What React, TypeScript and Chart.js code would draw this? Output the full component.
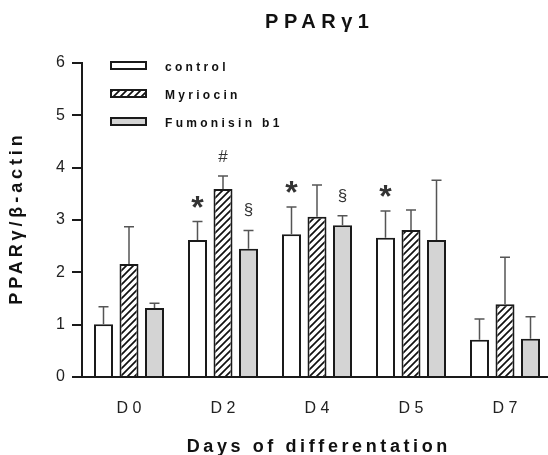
import React, { useEffect, useRef } from "react";
import { Chart, registerables } from "chart.js";

Chart.register(...registerables);

const categories = ["D0", "D2", "D4", "D5", "D7"];
const seriesNames = ["control", "Myriocin", "Fumonisin b1"];
const controlValues = [1.01, 2.62, 2.73, 2.66, 0.71];
const controlErrors = [0.33, 0.35, 0.52, 0.51, 0.40];
const myriocinValues = [2.16, 3.59, 3.06, 2.81, 1.39];
const myriocinErrors = [0.71, 0.25, 0.61, 0.38, 0.9];
const fumonisinValues = [1.32, 2.45, 2.9, 2.62, 0.73];
const fumonisinErrors = [0.09, 0.35, 0.18, 1.14, 0.42];
const controlMarks = ["", "*", "*", "*", ""];
const myriocinMarks = ["", "#", "", "", ""];
const fumonisinMarks = ["", "§", "§", "", ""];
const yTicks = [0, 1, 2, 3, 4, 5, 6];
const titleText = "PPARγ1";
const xTitleText = "Days of differentation";
const yTitleText = "PPARγ/β-actin";

const FONT = '"Liberation Sans", Arial, sans-serif';
const INK = "#1a1a1a";

function makeHatch(): CanvasPattern | string {
  const c = document.createElement("canvas");
  c.width = 7;
  c.height = 7;
  const g = c.getContext("2d");
  if (!g) return "#fff";
  g.fillStyle = "#ffffff";
  g.fillRect(0, 0, 7, 7);
  g.strokeStyle = "#111";
  g.lineWidth = 1.7;
  g.beginPath();
  g.moveTo(-1, 8);
  g.lineTo(8, -1);
  g.moveTo(-2, 2);
  g.lineTo(2, -2);
  g.moveTo(5, 9);
  g.lineTo(9, 5);
  g.stroke();
  const p = g.createPattern(c, "repeat");
  return p || "#fff";
}

function spaced(ctx: CanvasRenderingContext2D, text: string, x: number, y: number, sp: number) {
  (ctx as any).letterSpacing = sp + "px";
  const w = ctx.measureText(text).width;
  ctx.textAlign = "left";
  ctx.fillText(text, x - (w - sp) / 2, y);
}

export default function App() {
  const ref = useRef<HTMLCanvasElement | null>(null);

  useEffect(() => {
    if (!ref.current) return;
    const hatch = makeHatch();
    const errors = [controlErrors, myriocinErrors, fumonisinErrors];
    const marks = [controlMarks, myriocinMarks, fumonisinMarks];
    const fills: any[] = ["#ffffff", hatch, "#d4d4d4"];

    const overlay = {
      id: "overlay",
      afterDatasetsDraw(chart: any) {
        const ctx: CanvasRenderingContext2D = chart.ctx;
        const y = chart.scales.y;
        ctx.save();
        chart.data.datasets.forEach((ds: any, i: number) => {
          const meta = chart.getDatasetMeta(i);
          meta.data.forEach((bar: any, j: number) => {
            const v = ds.data[j];
            const top = y.getPixelForValue(v + errors[i][j]);
            ctx.strokeStyle = "#555";
            ctx.lineWidth = 1.5;
            ctx.beginPath();
            ctx.moveTo(bar.x, bar.y);
            ctx.lineTo(bar.x, top);
            ctx.moveTo(bar.x - 5, top);
            ctx.lineTo(bar.x + 5, top);
            ctx.stroke();
            const m = marks[i][j];
            if (m) {
              ctx.font = m === "*" ? `bold 32px ${FONT}` : `17px ${FONT}`;
              ctx.fillStyle = "#333";
              ctx.textAlign = "center";
              ctx.textBaseline = "alphabetic";
              (ctx as any).letterSpacing = "0px";
              const mt = ctx.measureText(m);
              const cy = top - 20;
              ctx.fillText(m, bar.x, cy + (mt.actualBoundingBoxAscent - mt.actualBoundingBoxDescent) / 2);
            }
          });
        });
        ctx.restore();
      },
      afterDraw(chart: any) {
        const ctx: CanvasRenderingContext2D = chart.ctx;
        const a = chart.chartArea;
        const cx = (a.left + a.right) / 2;
        ctx.save();
        ctx.fillStyle = "#111";
        ctx.textBaseline = "alphabetic";
        ctx.font = `bold 20px ${FONT}`;
        spaced(ctx, titleText, cx, 28, 5.5);
        ctx.font = `bold 18px ${FONT}`;
        spaced(ctx, xTitleText, cx, 452, 3.6);
        ctx.save();
        ctx.translate(17, (a.top + a.bottom) / 2);
        ctx.rotate(-Math.PI / 2);
        ctx.textBaseline = "middle";
        spaced(ctx, yTitleText, 0, 0, 3.9);
        ctx.restore();
        // legend
        chart.data.datasets.forEach((ds: any, i: number) => {
          const bx = a.left + 29;
          const by = a.top + 2.5 + i * 28;
          ctx.fillStyle = fills[i];
          ctx.fillRect(bx, by - 3.5, 35, 7);
          ctx.strokeStyle = INK;
          ctx.lineWidth = 2;
          ctx.strokeRect(bx, by - 3.5, 35, 7);
          ctx.fillStyle = "#111";
          ctx.font = `bold 12px ${FONT}`;
          (ctx as any).letterSpacing = "3.3px";
          ctx.textAlign = "left";
          ctx.textBaseline = "middle";
          ctx.fillText(ds.label, bx + 54, by + 2);
        });
        ctx.restore();
      },
    };

    const chart = new Chart(ref.current, {
      type: "bar",
      data: {
        labels: categories,
        datasets: [
          { label: seriesNames[0], data: controlValues, backgroundColor: fills[0], borderColor: INK, borderWidth: 2 },
          { label: seriesNames[1], data: myriocinValues, backgroundColor: fills[1], borderColor: INK, borderWidth: 2 },
          { label: seriesNames[2], data: fumonisinValues, backgroundColor: fills[2], borderColor: INK, borderWidth: 2 },
        ],
      },
      options: {
        responsive: false,
        animation: false,
        layout: { padding: { top: 63, left: 0, right: 0, bottom: 0 } },
        plugins: { legend: { display: false }, title: { display: false }, tooltip: { enabled: false } },
        datasets: { bar: { categoryPercentage: 0.814, barPercentage: 0.745 } } as any,
        scales: {
          x: {
            offset: true,
            grid: { display: false, drawTicks: false },
            border: { display: true, color: INK, width: 2 },
            ticks: {
              color: "#222",
              font: { family: FONT, size: 16 },
              padding: 22,
              callback: (_v: any, i: number) => categories[i].split("").join(" "),
            },
            afterFit: (s: any) => {
              s.height = 78;
            },
          },
          y: {
            min: 0,
            max: 6,
            afterBuildTicks: (s: any) => {
              s.ticks = yTicks.map((v) => ({ value: v }));
            },
            grid: { drawOnChartArea: false, drawTicks: true, tickLength: 10, color: INK, lineWidth: 2 },
            border: { display: true, color: INK, width: 2 },
            ticks: { color: "#222", font: { family: FONT, size: 16 }, padding: 7 },
            afterFit: (s: any) => {
              s.width = 82;
            },
          },
        },
      },
      plugins: [overlay],
    });
    return () => chart.destroy();
  }, []);

  return (
    <div style={{ position: "fixed", left: 0, top: 0, width: 548, height: 455, overflow: "hidden", background: "#fff" }}>
      <canvas ref={ref} width={552} height={455} style={{ display: "block" }} />
    </div>
  );
}
